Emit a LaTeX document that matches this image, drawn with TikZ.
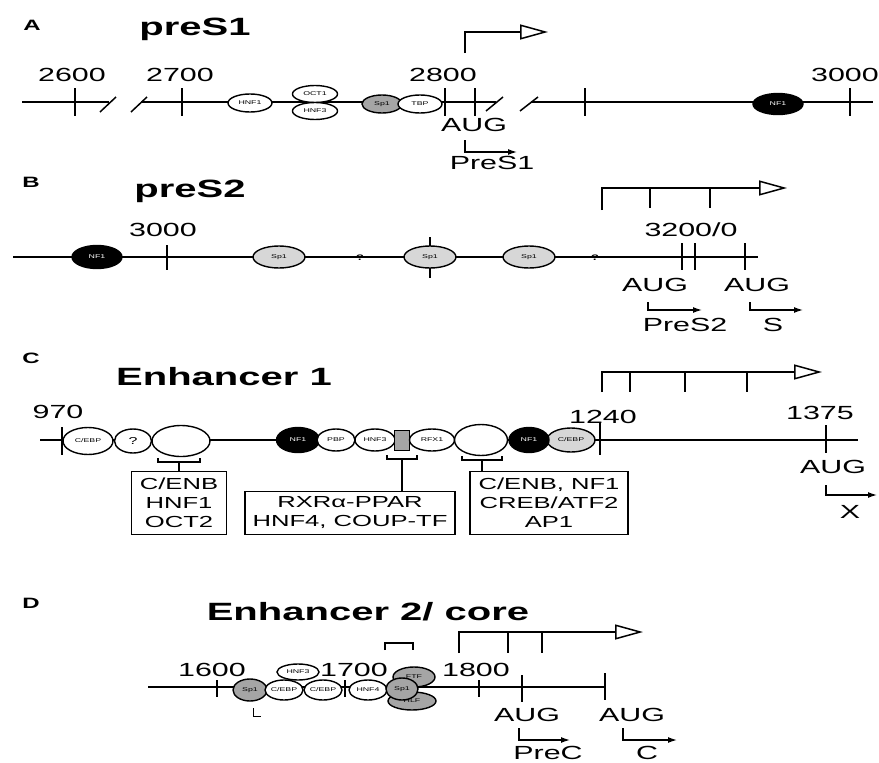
\documentclass[tikz,border=0pt]{standalone}
\usepackage{fontspec}
\setmainfont{Liberation Sans}[FakeStretch=1.6]
\usepackage{tikz}
\usetikzlibrary{shapes.geometric, arrows.meta, positioning, calc}
\definecolor{tfgray}{RGB}{165,165,165}
\definecolor{tflight}{RGB}{215,215,215}

\tikzset{
  dna/.style={line width=2.8pt},
  postick/.style={line width=1.7pt},
  brk/.style={line width=1.5pt},
  tf/.style={draw, ellipse, fill=white, line width=1.4pt, inner sep=0pt,
             minimum width=44pt, minimum height=18pt, font=\fontsize{5.5}{6}\selectfont},
  tfblack/.style={tf, fill=black, text=white},
  tfgray/.style={tf, fill=tfgray},
  tflite/.style={tf, fill=tflight},
  num/.style={font=\fontsize{19}{22}\selectfont, inner sep=0pt},
  title/.style={font=\bfseries\fontsize{25}{30}\selectfont, inner sep=0pt},
  panel/.style={font=\bfseries\fontsize{15}{18}\selectfont, inner sep=0pt},
  txarrow/.style={line width=1.3pt, -{Triangle[open, length=28pt, width=15pt, line width=1.5pt]}},
  startarrow/.style={line width=1.3pt, -{Latex[length=9pt, width=6pt]}},
  sitebox/.style={draw, line width=1.4pt, align=center, inner sep=2pt,
                  font=\fontsize{16}{19}\selectfont},
  brack/.style={line width=1.3pt},
}

\begin{document}
\begin{tikzpicture}[x=1pt, y=-1pt]
  \path[fill=white] (0,0) rectangle (879,763);

  % A: preS1
  \node[panel] (pa) at (32,25) {A};
  \node[title] (tpres1) at (195,29) {preS1};
  \draw[dna] (22,102) -- (109,102);
  \draw[dna] (141,102) -- (496,102);
  \draw[dna] (531,102) -- (873,102);
  \draw[brk] (100,112) -- (116,97);
  \draw[brk] (131,112) -- (147,97);
  \draw[brk] (486,111) -- (503,97);
  \draw[brk] (520,111) -- (538,97);
  \foreach \x in {75,182,445,475,585,850}
    \draw[postick] (\x,88) -- (\x,116);
  \node[num] (n2600) at (72,75) {2600};
  \node[num] (n2700) at (180,75) {2700};
  \node[num] (n2800) at (443,75) {2800};
  \node[num] (n3000a) at (845,75) {3000};
  \node[tf] (hnf1a) at (250,103) {HNF1};
  \node[tf, minimum width=45pt, minimum height=17pt] (oct1a) at (315,94) {OCT1};
  \node[tf, minimum width=45pt, minimum height=17pt] (hnf3a) at (315,111) {HNF3};
  \node[tfgray, minimum width=40pt] (sp1a) at (382,104) {Sp1};
  \node[tf] (tbpa) at (420,104) {TBP};
  \node[tfblack, minimum width=50pt, minimum height=21pt] (nf1a) at (778,104) {NF1};
  \draw[txarrow] (465,53) |- (548,32);
  \node[num] (auga) at (474,125) {AUG};
  \draw[startarrow] (465,140) |- (517,152);
  \node[num] (lpres1) at (492,163) {PreS1};

  % B: preS2
  \node[panel] (pb) at (31,182) {B};
  \node[title] (tpres2) at (190,191) {preS2};
  \draw[dna] (13,257) -- (758,257);
  \draw[postick] (167,245) -- (167,270);
  \draw[postick] (430,237) -- (430,278);
  \foreach \x in {682,695,745}
    \draw[postick] (\x,243) -- (\x,270);
  \node[num] (n3000b) at (163,230) {3000};
  \node[num] (n3200) at (691,230) {3200/0};
  \node[tfblack, minimum width=50pt, minimum height=23pt] (nf1b) at (97,257) {NF1};
  \node[tflite, minimum width=52pt, minimum height=22pt] (sp1b1) at (279,257) {Sp1};
  \node[tflite, minimum width=52pt, minimum height=22pt] (sp1b2) at (430,257) {Sp1};
  \node[tflite, minimum width=52pt, minimum height=22pt] (sp1b3) at (529,257) {Sp1};
  \node[font=\bfseries\fontsize{8}{8}\selectfont, inner sep=0pt] (qb1) at (360,258) {?};
  \node[font=\bfseries\fontsize{8}{8}\selectfont, inner sep=0pt] (qb2) at (595,258) {?};
  \draw[txarrow] (602,210) |- (787,188);
  \foreach \x in {650,710}
    \draw[line width=1.3pt] (\x,188) -- (\x,208);
  \node[num] (augb1) at (655,285) {AUG};
  \node[num] (augb2) at (757,285) {AUG};
  \draw[startarrow] (648,302) |- (702,310);
  \draw[startarrow] (750,302) |- (803,310);
  \node[num] (lpres2) at (685,325) {PreS2};
  \node[num] (ls) at (773,325) {S};

  % C: Enhancer 1
  \node[panel] (pc) at (31,358) {C};
  \node[title] (tenh1) at (224,377) {Enhancer 1};
  \draw[dna] (40,440) -- (858,440);
  \draw[postick] (62,427) -- (62,455);
  \draw[postick] (600,423) -- (600,455);
  \draw[postick] (826,425) -- (826,453);
  \node[num] (n970) at (58,412) {970};
  \node[num] (n1240) at (603,417) {1240};
  \node[num] (n1375) at (820,413) {1375};
  \node[tf, minimum width=50pt, minimum height=27pt] (cebpc) at (88,441) {C/EBP};
  \node[tf, minimum width=37pt, minimum height=24pt, font=\fontsize{10}{10}\selectfont] (unkc) at (133,441) {?};
  \node[tf, minimum width=58pt, minimum height=31pt] (empc1) at (181,441) {};
  \node[tfblack, minimum width=43pt, minimum height=25pt] (nf1c1) at (298,440) {NF1};
  \node[tf, minimum width=38pt, minimum height=22pt] (pbpc) at (336,440) {PBP};
  \node[tf, minimum width=40pt, minimum height=22pt] (hnf3c) at (375,440) {HNF3};
  \node[draw, fill=tfgray, line width=0.8pt, minimum width=15pt, minimum height=20pt, inner sep=0pt] (grayc) at (402,440) {};
  \node[tf, minimum width=45pt, minimum height=22pt] (rfx1c) at (432,440) {RFX1};
  \node[tf, minimum width=53pt, minimum height=31pt] (empc2) at (481,440) {};
  \node[tflite, minimum width=48pt, minimum height=24pt] (cebpc2) at (571,440) {C/EBP};
  \node[tfblack, minimum width=40pt, minimum height=25pt] (nf1c2) at (529,440) {NF1};
  \node[sitebox, minimum width=95pt, minimum height=63pt] (box1) at (179,503) {C/ENB\\HNF1\\OCT2};
  \node[sitebox, minimum width=210pt, minimum height=43pt] (box2) at (350,513) {RXRα-PPAR\\HNF4, COUP-TF};
  \node[sitebox, minimum width=158pt, minimum height=63pt] (box3) at (549,503) {C/ENB, NF1\\CREB/ATF2\\AP1};
  \coordinate (br1) at (179,462);
  \coordinate (br2) at (402,459);
  \coordinate (br3) at (482,460);
  \draw[brack] (158,458) -- (158,462) -- (200,462) -- (200,458);
  \draw[brack] (387,455) -- (387,459) -- (417,459) -- (417,455);
  \draw[brack] (462,456) -- (462,460) -- (502,460) -- (502,456);
  \draw[brack] (br1) -- (br1 |- box1.north);
  \draw[brack] (br2) -- (br2 |- box2.north);
  \draw[brack] (br3) -- (br3 |- box3.north);
  \draw[txarrow] (602,392) |- (822,372);
  \foreach \x in {630,685,747}
    \draw[line width=1.3pt] (\x,372) -- (\x,392);
  \node[num] (augc) at (833,467) {AUG};
  \draw[startarrow] (826,485) |- (877,495);
  \node[num] (lx) at (850,512) {X};

  % D: Enhancer 2 / core
  \node[panel] (pd) at (31,603) {D};
  \node[title] (tenh2) at (368,612) {Enhancer 2/ core};
  \draw[dna] (148,687) -- (605,687);
  \foreach \x in {217,345,479}
    \draw[postick] (\x,680) -- (\x,697);
  \draw[postick] (522,675) -- (522,702);
  \draw[postick] (605,673) -- (605,700);
  \node[num] (n1600) at (212,670) {1600};
  \node[num] (n1700) at (354,670) {1700};
  \node[num] (n1800) at (476,670) {1800};
  \node[tf, minimum width=42pt, minimum height=16pt] (hnf3d) at (298,672) {HNF3};
  \node[tfgray, minimum width=34pt, minimum height=22pt] (sp1d1) at (250,690) {Sp1};
  \node[tf, minimum width=38pt, minimum height=20pt] (cebpd1) at (284,690) {C/EBP};
  \node[tf, minimum width=38pt, minimum height=20pt] (cebpd2) at (323,690) {C/EBP};
  \node[tf, minimum width=38pt, minimum height=20pt] (hnf4d) at (368,690) {HNF4};
  \node[tfgray, minimum width=42pt, minimum height=20pt] (ftfd) at (414,677) {FTF};
  \node[tfgray, minimum width=48pt, minimum height=18pt] (hlfd) at (412,701) {HLF};
  \node[tfgray, minimum width=32pt, minimum height=22pt] (sp1d2) at (402,689) {Sp1};
  \draw[brack] (385,650) -- (385,643) -- (413,643) -- (413,650);
  \draw[line width=1pt] (253,708) -- (253,716) -- (261,716);
  \draw[txarrow] (459,653) |- (643,632);
  \foreach \x in {508,542}
    \draw[line width=1.3pt] (\x,632) -- (\x,653);
  \node[num] (augd1) at (527,715) {AUG};
  \node[num] (augd2) at (632,715) {AUG};
  \draw[startarrow] (519,728) |- (570,740);
  \draw[startarrow] (623,728) |- (677,740);
  \node[num] (lprec) at (548,753) {PreC};
  \node[num] (lc) at (647,753) {C};
\end{tikzpicture}
\end{document}
